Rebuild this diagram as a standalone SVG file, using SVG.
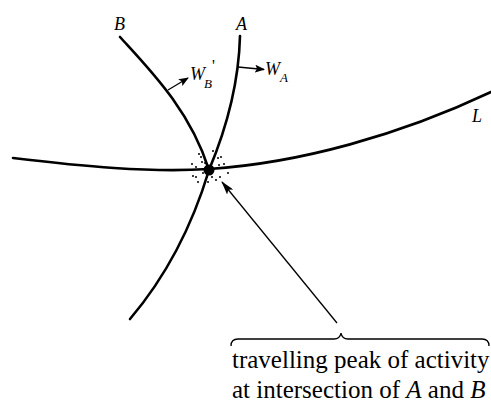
<svg xmlns="http://www.w3.org/2000/svg" width="491" height="405" viewBox="0 0 491 405">
<defs>
<marker id="ah" viewBox="0 0 10 8" refX="9" refY="4" markerWidth="10" markerHeight="8" markerUnits="userSpaceOnUse" orient="auto">
<path d="M0,0 L10,4 L0,8 L2,4 Z" fill="#000"/>
</marker>
<marker id="ah2" viewBox="0 0 14 8" refX="13" refY="4" markerWidth="14" markerHeight="8" markerUnits="userSpaceOnUse" orient="auto">
<path d="M0,0 L14,4 L0,8 L3,4 Z" fill="#000"/>
</marker>
</defs>
<g id="connectors" fill="none" stroke="#000">
<g stroke-width="2.6" stroke-linecap="round">
<path id="curveA" d="M240,36 C239,75 230,120 209,170 C200,200 180,260 130,319"/>
<path id="curveB" d="M120,37 C150,70 190,110 209,170"/>
<path id="lineL" d="M13,158 C80,166 150,173 209,169 C300,163 400,135 491,92"/>
</g>
<g stroke-width="1.3">
<path id="arrowWB" d="M168,90 L188,78" marker-end="url(#ah)"/>
<path id="arrowWA" d="M238,67 L264,69.5" marker-end="url(#ah)"/>
<path id="pointer" d="M337,323 L222,182" marker-end="url(#ah2)"/>
<path id="brace" d="M231,346 Q231,339 238,339 L334,339 Q340,339 341,333 Q342,339 348,339 L482,339 Q489,339 489,346"/>
</g>
</g>
<g id="peak" fill="#000">
<circle cx="209" cy="170" r="5.5"/>
<circle cx="199" cy="154" r="1"/><circle cx="192" cy="164" r="1"/><circle cx="196" cy="167" r="1"/>
<circle cx="202" cy="162" r="1"/><circle cx="205" cy="163" r="1"/><circle cx="213" cy="151" r="1"/>
<circle cx="218" cy="158" r="1"/><circle cx="221" cy="157" r="1"/><circle cx="224" cy="164" r="1"/>
<circle cx="219" cy="165" r="1"/><circle cx="193" cy="176" r="1"/><circle cx="196" cy="177" r="1"/>
<circle cx="198" cy="182" r="1"/><circle cx="203" cy="173" r="1"/><circle cx="207" cy="177" r="1"/>
<circle cx="208" cy="182" r="1"/><circle cx="212" cy="177" r="1"/><circle cx="216" cy="180" r="1"/>
<circle cx="220" cy="177" r="1"/><circle cx="228" cy="173" r="1"/><circle cx="201" cy="157" r="1"/>
</g>
<g fill="#000" font-family="Liberation Serif, serif">
<g id="labelB"><text x="114" y="30" font-size="18" font-style="italic">B</text></g>
<g id="labelA"><text x="236" y="30" font-size="18" font-style="italic">A</text></g>
<g id="labelL"><text x="472" y="122" font-size="18" font-style="italic">L</text></g>
<g id="labelWB"><text x="190" y="80" font-size="18" font-style="italic">W</text><text x="204" y="88" font-size="13" font-style="italic">B</text><text x="212" y="71" font-size="16">'</text></g>
<g id="labelWA"><text x="265" y="75" font-size="18" font-style="italic">W</text><text x="280" y="82" font-size="13" font-style="italic">A</text></g>
<g id="caption" font-size="25">
<text x="232" y="368">travelling peak of activity</text>
<text x="232" y="398">at intersection of <tspan font-style="italic">A</tspan> and <tspan font-style="italic">B</tspan></text>
</g>
</g>
</svg>
